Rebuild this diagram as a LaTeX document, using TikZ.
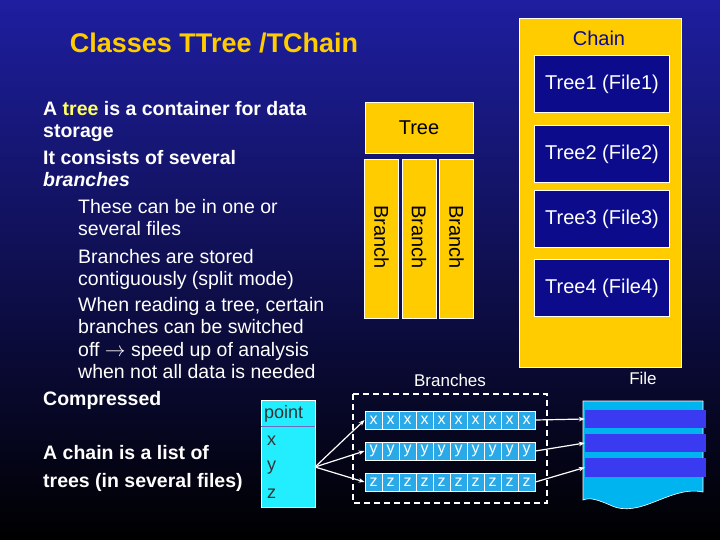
\documentclass[tikz,border=0pt]{standalone}
\usepackage{fontspec}
\setmainfont{Liberation Sans}
\usetikzlibrary{arrows.meta}
\definecolor{ylw}{HTML}{FFCC00}
\definecolor{navy}{HTML}{0B0B8C}
\definecolor{cellc}{HTML}{29A9E8}
\definecolor{filec}{HTML}{00B4F0}
\definecolor{stripe}{HTML}{3A3AF0}
\definecolor{ptc}{HTML}{22EEFF}
\definecolor{hl}{HTML}{FFFF66}
\tikzset{
 ybox/.style={fill=ylw,draw=white,line width=0.8pt},
 tbox/.style={fill=navy,draw=white,line width=0.8pt},
 txt/.style={text=white,font=\fontsize{19.5}{21}\selectfont,anchor=base west,inner sep=0pt},
 btxt/.style={txt,font=\fontsize{19.5}{21}\selectfont\bfseries},
 cell/.style={fill=cellc,draw=white,line width=0.8pt,minimum width=17pt,minimum height=18pt,inner sep=0pt,text=white,font=\fontsize{16}{16}\selectfont},
 ptxt/.style={anchor=west,font=\fontsize{18}{18}\selectfont,text=black!80,inner sep=0pt},
 arr/.style={white,line width=1.2pt,-{Stealth[length=6pt]}}
}
\begin{document}
\begin{tikzpicture}[x=1pt,y=-1pt]
\shade[top color={rgb,255:red,30;green,30;blue,160}, middle color={rgb,255:red,18;green,18;blue,110}, bottom color=black] (0,0) rectangle (720,540);
\useasboundingbox (0,0) rectangle (720,540);
\node[text=ylw,font=\fontsize{27}{29}\selectfont\bfseries] (title) at (214,43) {Classes TTree /TChain};
% chain
\node[ybox,minimum width=162pt,minimum height=349pt,inner sep=0pt] (chain) at (600,192.5) {};
\node[text=navy,font=\fontsize{20}{22}\selectfont] (chainl) at (599,38) {Chain};
\foreach \i/\y in {1/84,2/154,3/219,4/288}{
 \node[tbox,minimum width=135pt,minimum height=57pt,text=white,font=\fontsize{20}{22}\selectfont] (t\i) at (602,\y) {Tree\i{} (File\i)};
}
% tree
\node[ybox,minimum width=108pt,minimum height=51pt,font=\fontsize{20}{22}\selectfont] (tree) at (419,127.5) {Tree};
\foreach \i/\x in {1/381.5,2/419,3/456.5}{
 \node[ybox,minimum width=34pt,minimum height=159pt,inner sep=0pt] (b\i) at (\x,238.5) {};
 \node[rotate=-90,font=\fontsize{20}{22}\selectfont] (bl\i) at (\x,237) {Branch};
}
% left text
\node[btxt] (l1) at (43,116) {A \textcolor{hl}{tree} is a container for data};
\node[btxt] (l2) at (43,138) {storage};
\node[btxt] (l3) at (43,165) {It consists of several};
\node[btxt] (l4) at (43,187) {\itshape branches};
\node[txt] (l5) at (78,214) {These can be in one or};
\node[txt] (l6) at (78,236) {several files};
\node[txt] (l7) at (78,263) {Branches are stored};
\node[txt] (l8) at (78,285) {contiguously (split mode)};
\node[txt] (l9) at (78,311) {When reading a tree, certain};
\node[txt] (l10) at (78,333) {branches can be switched};
\node[txt] (l11) at (78,356) {off $\rightarrow$ speed up of analysis};
\node[txt] (l12) at (78,378) {when not all data is needed};
\node[btxt] (l13) at (43,405) {Compressed};
\node[btxt] (l14) at (43,459) {A chain is a list of};
\node[btxt] (l15) at (43,487) {trees (in several files)};
% point
\node[fill=ptc,draw=white,line width=0.8pt,minimum width=54pt,minimum height=107pt,inner sep=0pt] (pt) at (288,453.5) {};
\draw[navy!60,line width=0.8pt] (261,426) -- (315,426);
\node[ptxt] (ptl) at (264,414) {point};
\node[ptxt] (px) at (267,441) {x};
\node[ptxt] (py) at (267,468) {y};
\node[ptxt] (pz) at (267,494) {z};
\coordinate (pout) at (315,467);
% branches
\node[text=white,font=\fontsize{17}{19}\selectfont] (brl) at (450,380) {Branches};
\draw[white,line width=1.2pt,dash pattern=on 6pt off 4pt] (353,394) rectangle (547,503);
\foreach \r/\y/\c in {x/420/x,y/451/y,z/482/z}{
 \foreach \k in {0,...,9}{
  \node[cell] (\r\k) at ({373.5+17*\k},\y) {\c};
 }
}
% file
\node[text=white,font=\fontsize{17}{19}\selectfont] (filel) at (643,378) {File};
\fill[filec,draw=white,line width=0.6pt] (583,401) -- (703,401) -- (703,492) .. controls (670,485) and (640,520) .. (610,505) .. controls (598,500) and (590,497) .. (583,500) -- cycle;
\node[fill=stripe,minimum width=121pt,minimum height=18pt,inner sep=0pt] (s1) at (645.5,419) {};
\node[fill=stripe,minimum width=121pt,minimum height=18pt,inner sep=0pt] (s2) at (645.5,443) {};
\node[fill=stripe,minimum width=121pt,minimum height=19pt,inner sep=0pt] (s3) at (645.5,467.5) {};
% arrows
\draw[arr] (pout) -- (x0.west);
\draw[arr] (pout) -- (y0.west);
\draw[arr] (pout) -- (z0.west);
\draw[arr] (x9.east) -- (s1.west);
\draw[arr] (y9.east) -- (s2.west);
\draw[arr] (z9.east) -- (s3.west);
\end{tikzpicture}
\end{document}
